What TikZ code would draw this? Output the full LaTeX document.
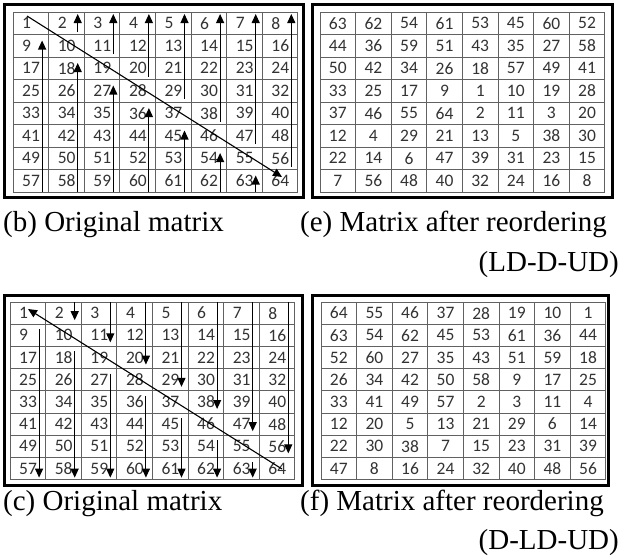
\documentclass[tikz,border=0pt]{standalone}
\usepackage{fontspec}
\setmainfont{Liberation Serif}
\newfontfamily\cellfont{Carlito}
\usetikzlibrary{arrows.meta}
\begin{document}
\begin{tikzpicture}[x=1pt,y=-1pt,
  panelframe/.style={line width=3pt,draw=black},
  gridline/.style={draw=black!62,line width=0.9pt},
  numl/.style={font=\cellfont\fontsize{17.5}{17.5}\selectfont,text=black!80,anchor=west,inner sep=0pt},
  numc/.style={font=\cellfont\fontsize{17.5}{17.5}\selectfont,text=black!80,anchor=center,inner sep=0pt},
  arr/.style={line width=1.1pt,-{Triangle[width=8pt,length=9pt]}},
  captl/.style={font=\fontsize{29}{34}\selectfont,inner sep=0pt,anchor=base west},
  captr/.style={font=\fontsize{29}{34}\selectfont,inner sep=0pt,anchor=base east}
]
\useasboundingbox (0,0) rectangle (622,557);
\def\cw{35.6}\def\rh{22.5}\def\rl{22.2}
% ---------- outer frames
\draw[panelframe] (4,4) rectangle (303,197);
\draw[panelframe] (312,4) rectangle (612,197);
\draw[panelframe] (4,295) rectangle (302,485);
\draw[panelframe] (312,295) rectangle (608,485);
% ---------- grids
\foreach \gx/\gy/\h in {13/12/\rh, 320/12/\rh, 10/302/\rl, 321/302/\rl}{
  \foreach \i in {0,...,8}{
    \draw[gridline] (\gx+\i*\cw,\gy) -- (\gx+\i*\cw,\gy+8*\h);
    \draw[gridline] (\gx,\gy+\i*\h) -- (\gx+8*\cw,\gy+\i*\h);
  }
}
% ---------- panel (b) and (c) numbers
\foreach \r in {0,...,7}{
  \foreach \c in {0,...,7}{
    \pgfmathtruncatemacro\n{8*\r+\c+1}
    \node[numl] (b\n) at (13+\c*\cw+9,12+\r*\rh+\rh/2) {\n};
    \node[numl] (c\n) at (10+\c*\cw+9,302+\r*\rl+\rl/2) {\n};
  }
}
% ---------- panel (e) numbers
\foreach \row [count=\r from 0] in {{63,62,54,61,53,45,60,52},{44,36,59,51,43,35,27,58},{50,42,34,26,18,57,49,41},{33,25,17,9,1,10,19,28},{37,46,55,64,2,11,3,20},{12,4,29,21,13,5,38,30},{22,14,6,47,39,31,23,15},{7,56,48,40,32,24,16,8}}{
  \foreach \v [count=\c from 0] in \row {
    \node[numc] (e\r-\c) at (320+\c*\cw+\cw/2,12+\r*\rh+\rh/2) {\v};
  }
}
% ---------- panel (f) numbers
\foreach \row [count=\r from 0] in {{64,55,46,37,28,19,10,1},{63,54,62,45,53,61,36,44},{52,60,27,35,43,51,59,18},{26,34,42,50,58,9,17,25},{33,41,49,57,2,3,11,4},{12,20,5,13,21,29,6,14},{22,30,38,7,15,23,31,39},{47,8,16,24,32,40,48,56}}{
  \foreach \v [count=\c from 0] in \row {
    \node[numc] (f\r-\c) at (321+\c*\cw+\cw/2,302+\r*\rl+\rl/2) {\v};
  }
}
% ---------- arrows (b): LD up, D, UD up
\foreach \c in {0,...,6}{
  \coordinate (bls\c) at (13+\c*\cw+\cw-6.5,12+8*\rh);
  \coordinate (ble\c) at (13+\c*\cw+\cw-6.5,12+\c*\rh+\rh+6);
  \draw[arr] (bls\c) -- (ble\c);
}
\foreach \c in {1,...,7}{
  \coordinate (bus\c) at (13+\c*\cw+\cw-6.5,12+\c*\rh-3);
  \coordinate (bue\c) at (13+\c*\cw+\cw-6.5,14);
  \draw[arr] (bus\c) -- (bue\c);
}
\coordinate (bd1) at (27,16);
\coordinate (bd2) at (282,177);
\draw[arr] (bd1) -- (bd2);
% ---------- arrows (c): D, LD down, UD down
\foreach \c in {0,...,6}{
  \coordinate (cls\c) at (10+\c*\cw+\cw-6.5,302+\c*\rl+\rl+5);
  \coordinate (cle\c) at (10+\c*\cw+\cw-6.5,302+8*\rl-2);
  \draw[arr] (cls\c) -- (cle\c);
}
\foreach \c in {1,...,7}{
  \coordinate (cus\c) at (10+\c*\cw+\cw-6.5,302);
  \coordinate (cue\c) at (10+\c*\cw+\cw-6.5,302+\c*\rl-4);
  \draw[arr] (cus\c) -- (cue\c);
}
\coordinate (cd1) at (282,469);
\coordinate (cd2) at (28,309);
\draw[arr] (cd1) -- (cd2);
% ---------- captions
\node[captl] (capb) at (3,231) {(b) Original matrix};
\node[captl] (cape) at (300,231) {(e) Matrix after reordering};
\node[captr] (cape2) at (619,271) {(LD-D-UD)};
\node[captl] (capc) at (3,510) {(c) Original matrix};
\node[captl] (capf) at (300,510) {(f) Matrix after reordering};
\node[captr] (capf2) at (619,549) {(D-LD-UD)};
\end{tikzpicture}
\end{document}
